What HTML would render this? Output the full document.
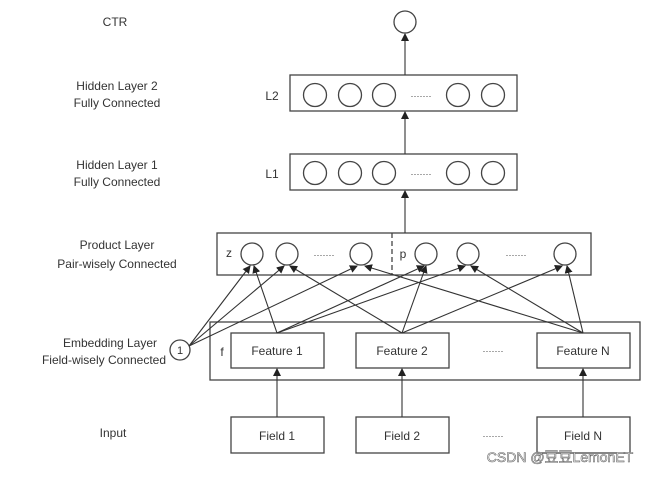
<!DOCTYPE html>
<html><head><style>
body{margin:0;background:#fff;}
svg text{font-family:"Liberation Sans","Noto Sans CJK SC",sans-serif;fill:#333;}
</style></head><body>
<svg width="664" height="473" viewBox="0 0 664 473" xmlns="http://www.w3.org/2000/svg">
<defs><marker id="a" markerWidth="8" markerHeight="8" refX="7" refY="4" orient="auto" markerUnits="userSpaceOnUse"><path d="M0,0 L8,4 L0,8 z" fill="#222"/></marker></defs>
<g font-size="12" text-anchor="middle">
<text x="115" y="26">CTR</text>
<text x="117" y="90">Hidden Layer 2</text><text x="117" y="107">Fully Connected</text>
<text x="117" y="169">Hidden Layer 1</text><text x="117" y="186">Fully Connected</text>
<text x="117" y="249">Product Layer</text><text x="117" y="268">Pair-wisely Connected</text>
<text x="110" y="347">Embedding Layer</text><text x="104" y="364">Field-wisely Connected</text>
<text x="113" y="437">Input</text>
</g>
<g fill="none" stroke="#444" stroke-width="1.3">
<circle cx="405" cy="22" r="11"/>
<rect x="290" y="75" width="227" height="36"/>
<rect x="290" y="154" width="227" height="36"/>
<rect x="217" y="233" width="374" height="42"/>
<line x1="392" y1="233" x2="392" y2="275" stroke-dasharray="5,3"/>
<rect x="210" y="322" width="430" height="58"/>
<rect x="231" y="333" width="93" height="35"/>
<rect x="356" y="333" width="93" height="35"/>
<rect x="537" y="333" width="93" height="35"/>
<rect x="231" y="417" width="93" height="36"/>
<rect x="356" y="417" width="93" height="36"/>
<rect x="537" y="417" width="93" height="36"/>
<circle cx="180" cy="350" r="10"/>
<g>
<circle cx="315" cy="95" r="11.5"/><circle cx="350" cy="95" r="11.5"/><circle cx="384" cy="95" r="11.5"/><circle cx="458" cy="95" r="11.5"/><circle cx="493" cy="95" r="11.5"/>
<circle cx="315" cy="173" r="11.5"/><circle cx="350" cy="173" r="11.5"/><circle cx="384" cy="173" r="11.5"/><circle cx="458" cy="173" r="11.5"/><circle cx="493" cy="173" r="11.5"/>
<circle cx="252" cy="254" r="11"/><circle cx="287" cy="254" r="11"/><circle cx="361" cy="254" r="11"/>
<circle cx="426" cy="254" r="11"/><circle cx="468" cy="254" r="11"/><circle cx="565" cy="254" r="11"/>
</g>
</g>
<g stroke="#333" stroke-width="1.1" marker-end="url(#a)">
<line x1="405" y1="75" x2="405" y2="34"/>
<line x1="405" y1="154" x2="405" y2="112"/>
<line x1="405" y1="233" x2="405" y2="191"/>
<line x1="277" y1="417" x2="277" y2="369"/>
<line x1="402" y1="417" x2="402" y2="369"/>
<line x1="583" y1="417" x2="583" y2="369"/>
<line x1="189" y1="346" x2="250" y2="266"/>
<line x1="189" y1="346" x2="284" y2="266"/>
<line x1="189" y1="346" x2="357" y2="266"/>
<line x1="277" y1="333" x2="254" y2="266"/>
<line x1="277" y1="333" x2="424" y2="266"/>
<line x1="277" y1="333" x2="465" y2="266"/>
<line x1="402" y1="333" x2="290" y2="266"/>
<line x1="402" y1="333" x2="426" y2="266"/>
<line x1="402" y1="333" x2="562" y2="266"/>
<line x1="583" y1="333" x2="365" y2="266"/>
<line x1="583" y1="333" x2="471" y2="266"/>
<line x1="583" y1="333" x2="567" y2="266"/>
</g>
<g font-size="12" text-anchor="middle">
<text x="272" y="100">L2</text><text x="272" y="178">L1</text>
<text x="229" y="257">z</text><text x="403" y="258">p</text>
<text x="222" y="356">f</text>
<text x="180" y="354" font-size="11">1</text>
<text x="277" y="355">Feature 1</text><text x="402" y="355">Feature 2</text><text x="583" y="355">Feature N</text>
<text x="277" y="440">Field 1</text><text x="402" y="440">Field 2</text><text x="583" y="440">Field N</text>
<text x="421" y="99" font-size="9">·······</text><text x="421" y="177" font-size="9">·······</text>
<text x="324" y="258" font-size="9">·······</text><text x="516" y="258" font-size="9">·······</text>
<text x="493" y="354" font-size="9">·······</text><text x="493" y="439" font-size="9">·······</text>
</g>
<text x="560" y="462" font-size="14" text-anchor="middle" style="fill:#fff;stroke:#666;stroke-width:0.6">CSDN @豆豆LemonET</text>
</svg>
</body></html>
